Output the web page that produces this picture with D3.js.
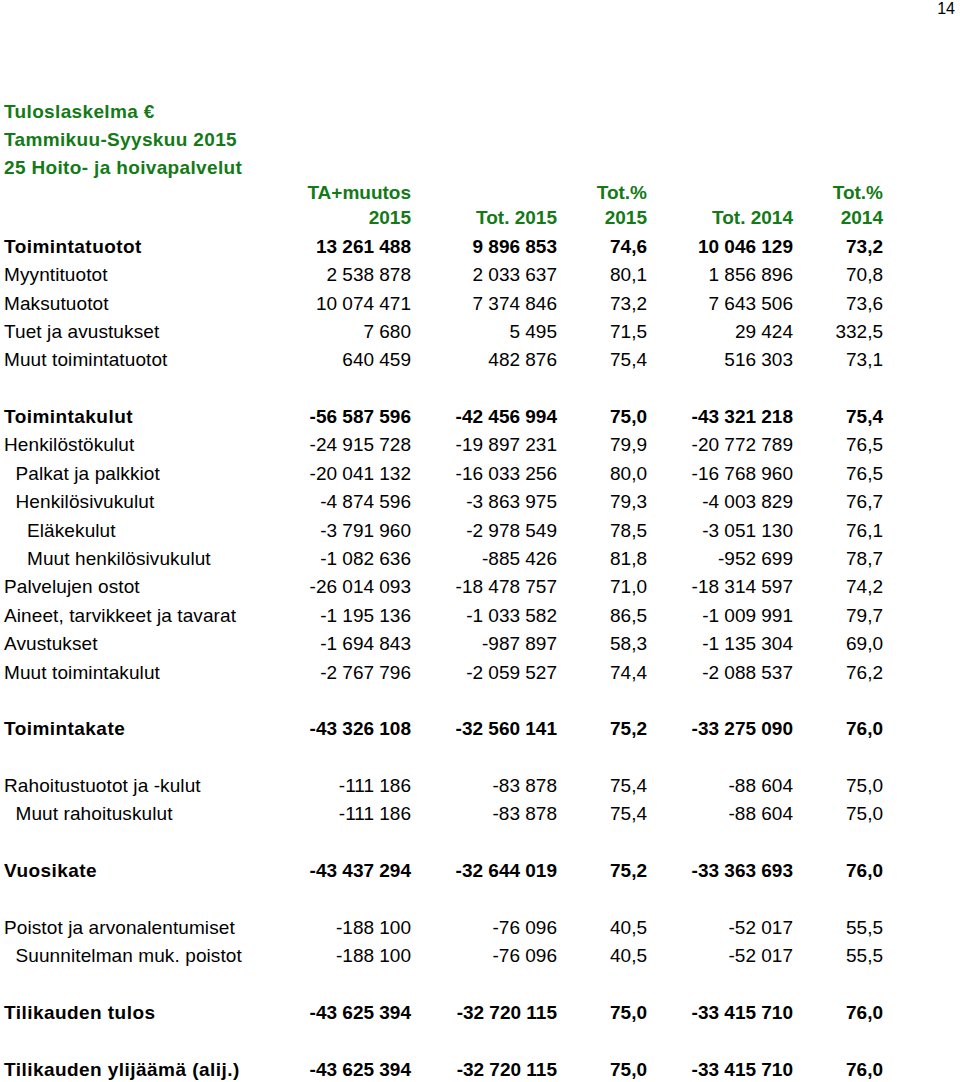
<!DOCTYPE html>
<html>
<head>
<meta charset="utf-8">
<script src="https://cdn.jsdelivr.net/npm/d3@7"></script>
<style>
  html, body { margin: 0; padding: 0; background: #ffffff; }
  svg { display: block; font-family: "Liberation Sans", Arial, sans-serif; }
  .title, .head { fill: #137a17; font-weight: bold; }
  .title { letter-spacing: 0.35px; }
  .cell { fill: #000000; }
  .label { letter-spacing: 0.1px; }
  .bold { font-weight: bold; }
  .bold .label { letter-spacing: 0.45px; }
</style>
</head>
<body>
<div id="chart"></div>
<script>
// Tuloslaskelma table, drawn as an SVG with D3.

const titleLines = ["Tuloslaskelma €", "Tammikuu-Syyskuu 2015", "25 Hoito- ja hoivapalvelut"];
const headerTop = ["TA+muutos", "", "Tot.%", "", "Tot.%"];
const headerBottom = ["2015", "Tot. 2015", "2015", "Tot. 2014", "2014"];

// null marks an empty spacer row
const rowLabels = [
  "Toimintatuotot", "Myyntituotot", "Maksutuotot", "Tuet ja avustukset", "Muut toimintatuotot",
  null,
  "Toimintakulut", "Henkilöstökulut", "Palkat ja palkkiot", "Henkilösivukulut", "Eläkekulut",
  "Muut henkilösivukulut", "Palvelujen ostot", "Aineet, tarvikkeet ja tavarat", "Avustukset",
  "Muut toimintakulut",
  null,
  "Toimintakate",
  null,
  "Rahoitustuotot ja -kulut", "Muut rahoituskulut",
  null,
  "Vuosikate",
  null,
  "Poistot ja arvonalentumiset", "Suunnitelman muk. poistot",
  null,
  "Tilikauden tulos",
  null,
  "Tilikauden ylijäämä (alij.)"
];
const rowIndent = [0, 0, 0, 0, 0, 0, 0, 0, 1, 1, 2, 2, 0, 0, 0, 0, 0, 0, 0, 0, 1, 0, 0, 0, 0, 1, 0, 0, 0, 0];
const rowBold = ["Toimintatuotot", "Toimintakulut", "Toimintakate", "Vuosikate", "Tilikauden tulos", "Tilikauden ylijäämä (alij.)"];

const ta2015 = [13261488, 2538878, 10074471, 7680, 640459, null,
  -56587596, -24915728, -20041132, -4874596, -3791960, -1082636, -26014093, -1195136, -1694843, -2767796, null,
  -43326108, null, -111186, -111186, null, -43437294, null, -188100, -188100, null, -43625394, null, -43625394];
const tot2015 = [9896853, 2033637, 7374846, 5495, 482876, null,
  -42456994, -19897231, -16033256, -3863975, -2978549, -885426, -18478757, -1033582, -987897, -2059527, null,
  -32560141, null, -83878, -83878, null, -32644019, null, -76096, -76096, null, -32720115, null, -32720115];
const pct2015 = [74.6, 80.1, 73.2, 71.5, 75.4, null,
  75.0, 79.9, 80.0, 79.3, 78.5, 81.8, 71.0, 86.5, 58.3, 74.4, null,
  75.2, null, 75.4, 75.4, null, 75.2, null, 40.5, 40.5, null, 75.0, null, 75.0];
const tot2014 = [10046129, 1856896, 7643506, 29424, 516303, null,
  -43321218, -20772789, -16768960, -4003829, -3051130, -952699, -18314597, -1009991, -1135304, -2088537, null,
  -33275090, null, -88604, -88604, null, -33363693, null, -52017, -52017, null, -33415710, null, -33415710];
const pct2014 = [73.2, 70.8, 73.6, 332.5, 73.1, null,
  75.4, 76.5, 76.5, 76.7, 76.1, 78.7, 74.2, 79.7, 69.0, 76.2, null,
  76.0, null, 75.0, 75.0, null, 76.0, null, 55.5, 55.5, null, 76.0, null, 76.0];

const columns = ["ta2015", "tot2015", "pct2015", "tot2014", "pct2014"];
const columnValues = [ta2015, tot2015, pct2015, tot2014, pct2014];

(function renderTable() {
  "use strict";

  const width = 960;
  const height = 1082;
  const fontSize = 19;

  const fi = d3.formatLocale({ decimal: ",", thousands: "\u00a0", grouping: [3], currency: ["", " €"], minus: "-" });
  const fmtInt = fi.format(",d");
  const fmtPct = fi.format(".1f");
  const isPct = function (col) { return col.indexOf("pct") === 0; };

  const svg = d3.select("#chart").append("svg")
    .attr("width", width)
    .attr("height", height)
    .attr("viewBox", "0 0 " + width + " " + height);

  // Column right edges
  const xCol = d3.scaleOrdinal().domain(columns).range([411, 557, 647, 793, 883]);
  const xLabel = d3.scaleLinear().domain([0, 2]).range([4, 27]);

  // Body rows, centred on a point scale
  const yRow = d3.scalePoint().domain(d3.range(rowLabels.length)).range([246, 1069]);
  const yTitle = d3.scalePoint().domain(d3.range(titleLines.length)).range([111, 167]);
  const yHead = d3.scalePoint().domain([0, 1]).range([192, 217]);
  const dy = "0.36em";

  svg.append("text")
    .attr("x", 955).attr("y", 8).attr("dy", dy)
    .attr("text-anchor", "end")
    .attr("font-size", 16)
    .text("14");

  svg.selectAll(".title").data(titleLines).enter().append("text")
    .attr("class", "title")
    .attr("x", 4)
    .attr("y", function (d, i) { return yTitle(i); })
    .attr("dy", dy)
    .attr("font-size", fontSize)
    .text(function (d) { return d; });

  [headerTop, headerBottom].forEach(function (line, li) {
    svg.selectAll(".head" + li).data(line).enter().append("text")
      .attr("class", "head head" + li)
      .attr("x", function (d, i) { return xCol(columns[i]); })
      .attr("y", yHead(li))
      .attr("dy", dy)
      .attr("text-anchor", "end")
      .attr("font-size", fontSize)
      .text(function (d) { return d; });
  });

  const rows = rowLabels.map(function (label, i) {
    return { index: i, label: label, indent: rowIndent[i], bold: rowBold.indexOf(label) >= 0 };
  }).filter(function (r) { return r.label !== null; });

  const rowG = svg.selectAll(".row").data(rows).enter().append("g")
    .attr("class", function (r) { return "row" + (r.bold ? " bold" : ""); })
    .attr("transform", function (r) { return "translate(0," + yRow(r.index) + ")"; });

  rowG.append("text")
    .attr("class", "cell label")
    .attr("x", function (r) { return xLabel(r.indent); })
    .attr("dy", dy)
    .attr("font-size", fontSize)
    .text(function (r) { return r.label; });

  columns.forEach(function (col, ci) {
    rowG.append("text")
      .attr("class", "cell")
      .attr("x", xCol(col))
      .attr("dy", dy)
      .attr("text-anchor", "end")
      .attr("font-size", fontSize)
      .text(function (r) {
        const v = columnValues[ci][r.index];
        return isPct(col) ? fmtPct(v) : fmtInt(v);
      });
  });
})();
</script>
</body>
</html>
